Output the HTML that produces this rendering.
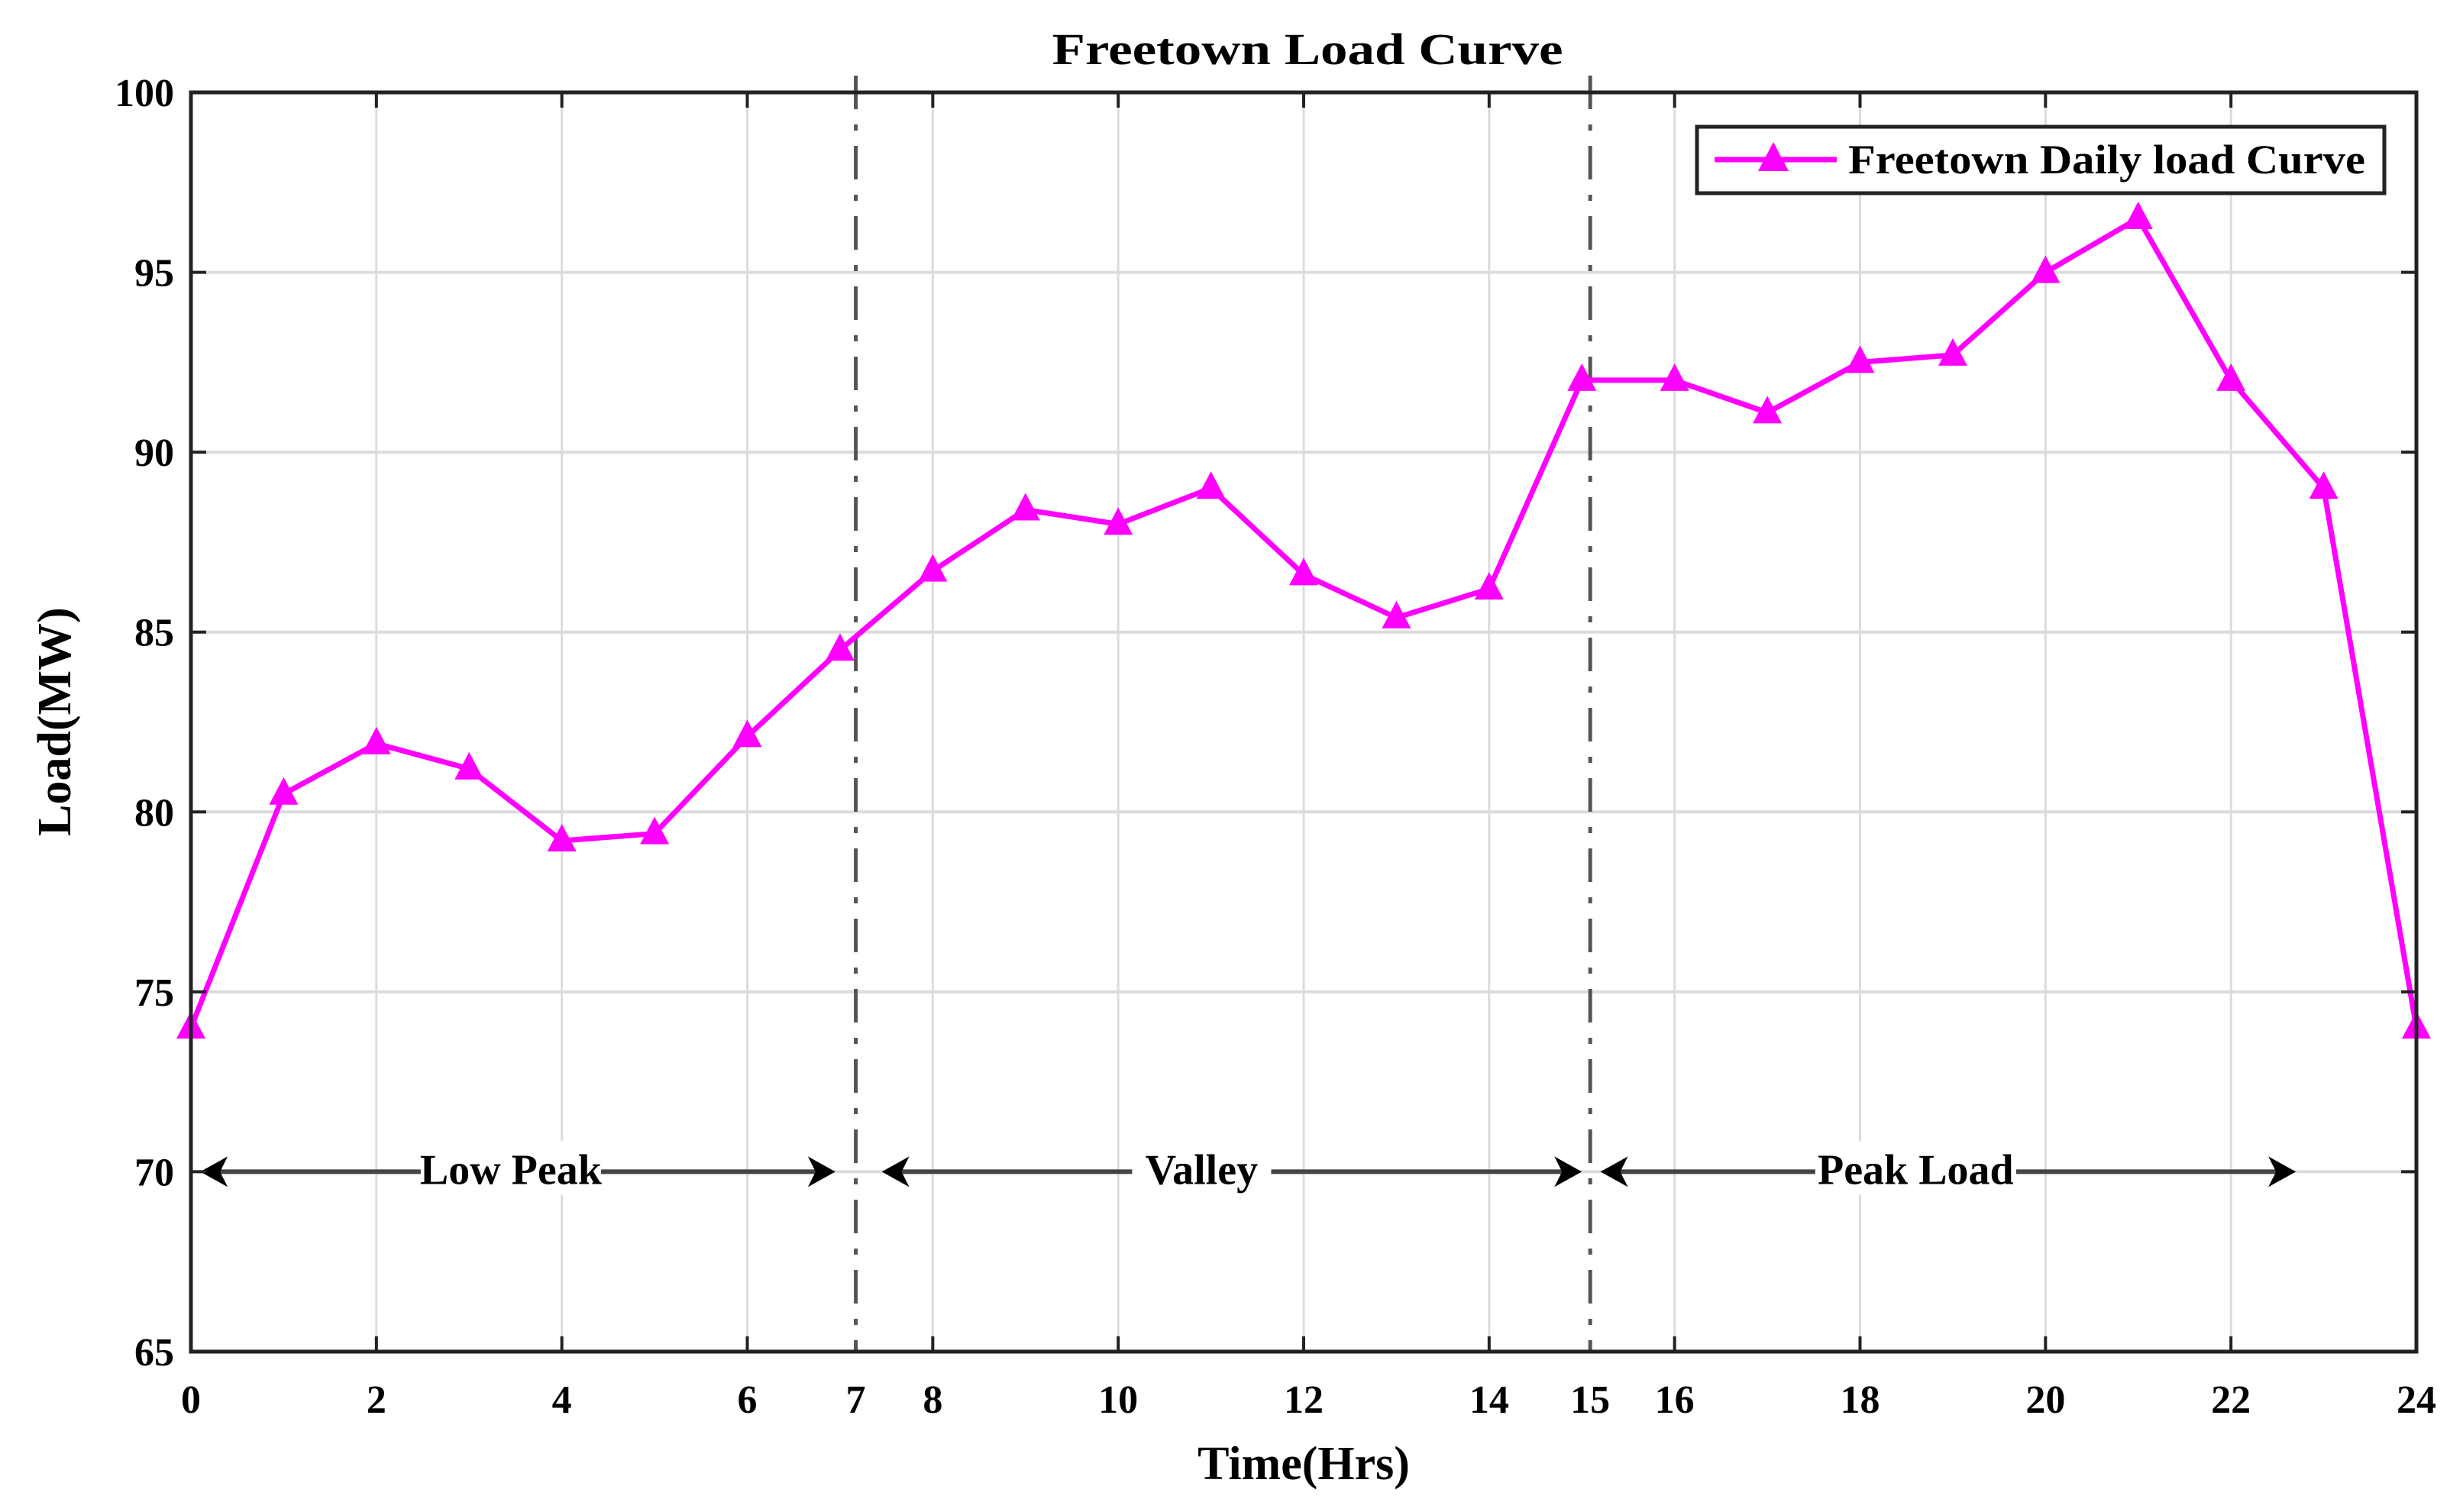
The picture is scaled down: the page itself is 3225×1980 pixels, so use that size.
<!DOCTYPE html>
<html><head><meta charset="utf-8"><style>
html,body{margin:0;padding:0;background:#fff;}
svg{display:block;font-family:"Liberation Serif",serif;font-weight:bold;}
</style></head><body>
<svg id="chart" width="3225" height="1980" viewBox="0 0 3225 1980" xmlns="http://www.w3.org/2000/svg">
<g id="grid"></g>
<g id="phases"></g>
<g id="series"></g>
<g id="axes"></g>
<text x="1712" y="84" font-size="58" text-anchor="middle" textLength="669" lengthAdjust="spacingAndGlyphs">Freetown Load Curve</text>
<text x="1707" y="1937" font-size="62" text-anchor="middle">Time(Hrs)</text>
<text transform="translate(92,945) rotate(-90)" font-size="62" text-anchor="middle">Load(MW)</text>
<g>
<rect x="2222" y="166" width="900" height="87" fill="#fff" stroke="#222" stroke-width="5"/>
<line x1="2245" y1="209" x2="2405" y2="209" stroke="#ff00ff" stroke-width="7"/>
<polygon points="2322,186 2342,224 2302,224" fill="#ff00ff"/>
<text x="2420" y="227" font-size="54" textLength="677" lengthAdjust="spacingAndGlyphs">Freetown Daily load Curve</text>
</g>
</svg>
<script>
const hours = [0,1,2,3,4,5,6,7,8,9,10,11,12,13,14,15,16,17,18,19,20,21,22,23,24];
const loadMW = [74,80.5,81.9,81.2,79.2,79.4,82.1,84.5,86.7,88.4,88.0,89.0,86.6,85.4,86.2,92.0,92.0,91.1,92.5,92.7,95.0,96.5,92.0,89.0,74.0];
const xTicks = [0,2,4,6,7,8,10,12,14,15,16,18,20,22,24];
const xGrid = [2,4,6,8,10,12,14,16,18,20,22];
const yTicks = [65,70,75,80,85,90,95,100];
const phaseBounds = [7.17,15.09];
const phaseLabels = ["Low Peak","Valley","Peak Load"];
const phaseStarts = [0.1,7.45,15.2];
const phaseEnds = [6.95,15.0,22.7];
const phaseCenters = [3.45,10.9,18.6];

const L=250,R=3164,T=121,B=1770;
const X=v=>L+(v-0)/24*(R-L);
const Y=v=>B-(v-65)/35*(B-T);
const NS="http://www.w3.org/2000/svg";
function mk(tag,attrs,parent){const e=document.createElementNS(NS,tag);for(const k in attrs)e.setAttribute(k,attrs[k]);parent.appendChild(e);return e;}
const grid=document.getElementById('grid'),axes=document.getElementById('axes'),series=document.getElementById('series'),phases=document.getElementById('phases');

xGrid.forEach(v=>{const e=mk('line',{x1:X(v),x2:X(v),y1:T,y2:B,stroke:'#dcdcdc','stroke-width':3},grid);

});
yTicks.forEach(v=>{const e=mk('line',{x1:L,x2:R,y1:Y(v),y2:Y(v),stroke:'#dcdcdc','stroke-width':4},grid);

});

// axes box
const box=mk('rect',{x:L,y:T,width:R-L,height:B-T,fill:'none',stroke:'#222','stroke-width':5},axes);


xTicks.forEach(v=>{
  const px=(v===7||v===15)?X(phaseBounds[v===7?0:1]):X(v);
  if(v!==7&&v!==15){
    const t1=mk('line',{x1:px,x2:px,y1:B,y2:B-20,stroke:'#222','stroke-width':4},axes);
    
    
    const t2=mk('line',{x1:px,x2:px,y1:T,y2:T+20,stroke:'#222','stroke-width':4},axes);
    
    
  }
  const t=mk('text',{x:px,y:1850,'font-size':52,'text-anchor':'middle'},axes);
  t.textContent=v;
  
  
});
yTicks.forEach(v=>{
  const a=mk('line',{x1:L,x2:L+20,y1:Y(v),y2:Y(v),stroke:'#222','stroke-width':4},axes);
  
  
  const b=mk('line',{x1:R,x2:R-20,y1:Y(v),y2:Y(v),stroke:'#222','stroke-width':4},axes);
  
  
  const t=mk('text',{x:L-22,y:Y(v)+18,'font-size':52,'text-anchor':'end'},axes);
  t.textContent=v;
  
  
});

// phase boundaries
phaseBounds.forEach(v=>{
  const e=mk('line',{x1:X(v),x2:X(v),y1:T-22,y2:B,stroke:'#555','stroke-width':5,'stroke-dasharray':'44 20 8 20'},phases);
  
  
});
const yArr=Y(70);
phaseLabels.forEach((lab,i)=>{
  const x1=X(phaseStarts[i]),x2=X(phaseEnds[i]);
  const ln=mk('line',{x1:x1+20,x2:x2-20,y1:yArr,y2:yArr,stroke:'#444','stroke-width':6},phases);
  
  
  const h1=mk('polygon',{points:`${x1},${yArr} ${x1+36},${yArr-20} ${x1+26},${yArr} ${x1+36},${yArr+20}`,fill:'#000'},phases);
  
  
  const h2=mk('polygon',{points:`${x2},${yArr} ${x2-36},${yArr-20} ${x2-26},${yArr} ${x2-36},${yArr+20}`,fill:'#000'},phases);
  
  
  const w=lab.length*27+20;
  const bg=mk('rect',{x:X(phaseCenters[i])-w/2,y:yArr-40,width:w,height:70,fill:'#fff'},phases);
  
  
  const t=mk('text',{x:X(phaseCenters[i]),y:yArr+16,'font-size':56,'text-anchor':'middle'},phases);
  t.textContent=lab;
  
  
});

// series
const pts=hours.map((h,i)=>X(h)+','+Y(loadMW[i])).join(' ');
const pl=mk('polyline',{points:pts,fill:'none',stroke:'#ff00ff','stroke-width':7,'stroke-linejoin':'round'},series);


hours.forEach((h,i)=>{
  const cx=X(h),cy=Y(loadMW[i]);
  const m=mk('polygon',{points:`${cx},${cy-22} ${cx+19},${cy+14} ${cx-19},${cy+14}`,fill:'#ff00ff'},series);
  
  
});
</script>
</body></html>
